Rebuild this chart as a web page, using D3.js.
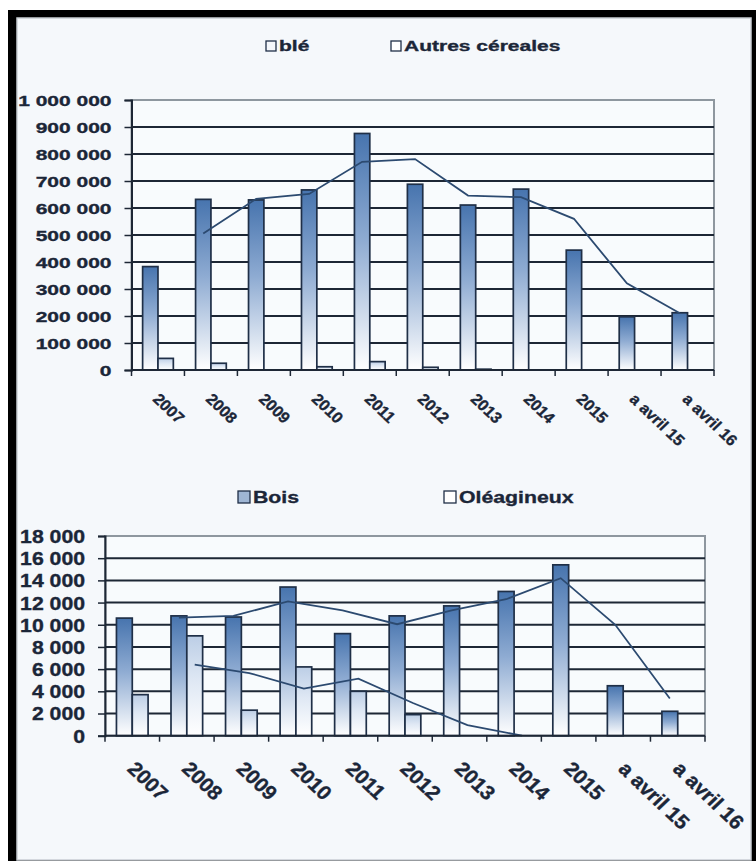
<!DOCTYPE html>
<html>
<head>
<meta charset="utf-8">
<script src="https://cdn.jsdelivr.net/npm/d3@7"></script>
<style>
  html, body { margin: 0; padding: 0; background: #ffffff; }
  svg { display: block; }
  text { font-family: "Liberation Sans", Arial, sans-serif; font-weight: bold; fill: #1b2638; stroke: #1b2638; stroke-width: 0.35px; }
</style>
</head>
<body>
<svg id="chart" width="756" height="861"></svg>
<script>
// Categories shared by both charts
const categories = ["2007", "2008", "2009", "2010", "2011", "2012", "2013", "2014", "2015", "a avril 15", "a avril 16"];

// Upper chart: cereals (tonnes)
const bleValues    = [383000, 632000, 630000, 667000, 876000, 688000, 611000, 670000, 444000, 197000, 212000];
const autresValues = [43000, 25000, 0, 12000, 31000, 10000, 3000, 0, 0, 0, 0];
const bleTrend     = [null, 506000, 634000, 652000, 771000, 781000, 646000, 640000, 560000, 321000, 210000];
const upperTicks   = [0, 100000, 200000, 300000, 400000, 500000, 600000, 700000, 800000, 900000, 1000000];

// Lower chart: wood and oilseeds
const boisValues    = [10600, 10800, 10700, 13400, 9200, 10800, 11700, 13000, 15400, 4500, 2200];
const oleagValues   = [3700, 9000, 2300, 6200, 4000, 1900, 0, 0, null, null, null];
const boisTrend     = [null, 10650, 10800, 12100, 11300, 10050, 11300, 12300, 14200, 10000, 3350];
const oleagTrend    = [null, 6400, 5650, 4250, 5150, 2950, 950, 0, null, null, null];
const lowerTicks    = [0, 2000, 4000, 6000, 8000, 10000, 12000, 14000, 16000, 18000];

const svg = d3.select("#chart");
const fmt = d3.formatLocale({ decimal: ",", thousands: " ", grouping: [3], currency: ["", " €"] }).format(",");

// Frame: dark band on top/left, light panel
svg.append("rect").attr("x", 8).attr("y", 10).attr("width", 748).attr("height", 851).attr("fill", "#000");
svg.append("rect").attr("x", 17).attr("y", 18).attr("width", 734).attr("height", 842)
  .attr("fill", "#f5f8fb").attr("stroke", "#c9ced4").attr("stroke-width", 1.5);

// Gradients for the bars
const defs = svg.append("defs");
function grad(id, top, mid, bottom) {
  const g = defs.append("linearGradient").attr("id", id).attr("x1", 0).attr("y1", 0).attr("x2", 0).attr("y2", 1);
  g.append("stop").attr("offset", "0%").attr("stop-color", top);
  g.append("stop").attr("offset", "45%").attr("stop-color", mid);
  g.append("stop").attr("offset", "100%").attr("stop-color", bottom);
}
grad("gDark", "#4774ae", "#8eabd2", "#ffffff");
grad("gLight", "#bccee6", "#dfe8f4", "#ffffff");

function drawChart(cfg) {
  const { left, right, top, bottom } = cfg;
  const g = svg.append("g");

  const x = d3.scaleBand().domain(categories).range([left, right]).paddingInner(0.42).paddingOuter(0.21);
  const xs = d3.scaleBand().domain([0, 1]).range([0, x.bandwidth()]);
  const y = d3.scaleLinear().domain([0, cfg.max]).range([bottom, top]);

  // Plot area
  g.append("rect").attr("x", left).attr("y", top).attr("width", right - left).attr("height", bottom - top)
    .attr("fill", "#f8fbfd").attr("stroke", "#8e979f").attr("stroke-width", 2);

  // Horizontal gridlines
  g.append("g").selectAll("line").data(cfg.ticks.filter(t => t > 0 && t < cfg.max)).join("line")
    .attr("x1", left).attr("x2", right).attr("y1", d => y(d)).attr("y2", d => y(d))
    .attr("stroke", "#1d2735").attr("stroke-width", 2);

  // Bars
  cfg.series.forEach((s, i) => {
    g.append("g").selectAll("rect").data(s.values.map((v, k) => ({ c: categories[k], v })).filter(d => d.v != null && d.v > 0))
      .join("rect")
      .attr("x", d => x(d.c) + xs(i)).attr("width", xs.bandwidth())
      .attr("y", d => y(d.v)).attr("height", d => y(0) - y(d.v))
      .attr("fill", `url(#${s.fill})`).attr("stroke", "#1f2f47").attr("stroke-width", 1.7);
  });

  // Trend lines
  cfg.lines.forEach(l => {
    const pts = l.values.map((v, k) => ({ c: categories[k], v })).filter(d => d.v != null);
    g.append("path").datum(pts)
      .attr("fill", "none").attr("stroke", "#2c4a70").attr("stroke-width", 1.8)
      .attr("d", d3.line().x(d => x(d.c) + xs(l.series) + xs.bandwidth() / 2).y(d => y(d.v)));
  });

  // Y axis
  const ya = g.append("g").attr("transform", `translate(${left},0)`)
    .call(d3.axisLeft(y).tickValues(cfg.ticks).tickSize(7).tickFormat(fmt));
  ya.select(".domain").attr("stroke", "#1d2735").attr("stroke-width", 2);
  ya.selectAll(".tick line").attr("stroke", "#1d2735").attr("stroke-width", 1.5);
  ya.selectAll(".tick text")
    .attr("x", -cfg.yLabelGap / cfg.ySx).attr("dy", "0.36em")
    .attr("transform", `scale(${cfg.ySx},1)`)
    .style("font-size", cfg.yFont + "px").style("font-family", null).attr("fill", "#1b2638");

  // X axis with boundary ticks
  const xa = g.append("g");
  xa.append("line").attr("x1", left).attr("x2", right).attr("y1", bottom).attr("y2", bottom)
    .attr("stroke", "#1d2735").attr("stroke-width", 2);
  const bounds = categories.map(c => x(c) - x.step() * 0.21).concat([right]);
  xa.selectAll("line.b").data(bounds).join("line").attr("class", "b")
    .attr("x1", d => d).attr("x2", d => d).attr("y1", bottom).attr("y2", bottom + 6)
    .attr("stroke", "#1d2735").attr("stroke-width", 1.5);
  xa.selectAll("text").data(categories).join("text")
    .attr("transform", d => `translate(${x(d) + x.bandwidth() / 2 + cfg.xLabelDx},${cfg.xLabelY}) scale(${cfg.xSx},1) rotate(45)`)
    .style("font-size", cfg.xFont + "px")
    .text(d => d);

  // Legend
  cfg.legend.forEach(it => {
    const lg = g.append("g").attr("transform", `translate(${it.x},${it.y})`);
    lg.append("rect").attr("x", 0).attr("y", -it.box).attr("width", it.box).attr("height", it.box)
      .attr("fill", it.fill).attr("stroke", "#1f2f47").attr("stroke-width", 1.3);
    lg.append("text").attr("transform", `translate(${it.box + 3},0) scale(${it.sx},1)`)
      .style("font-size", it.font + "px").text(it.label);
  });
}

drawChart({
  left: 131.5, right: 714, top: 100, bottom: 370, max: 1000000,
  ticks: upperTicks,
  series: [{ values: bleValues, fill: "gDark" }, { values: autresValues, fill: "gLight" }],
  lines: [{ values: bleTrend, series: 0 }],
  yFont: 15, ySx: 1.4, yLabelGap: 20,
  xFont: 15.5, xSx: 1.05, xLabelDx: -6, xLabelY: 400,
  legend: [
    { x: 266, y: 51, box: 10, fill: "#f4f7fb", label: "blé", font: 15, sx: 1.4 },
    { x: 391, y: 51, box: 10, fill: "#ffffff", label: "Autres céreales", font: 15, sx: 1.4 }
  ]
});

drawChart({
  left: 105, right: 705, top: 536, bottom: 735.7, max: 18000,
  ticks: lowerTicks,
  series: [{ values: boisValues, fill: "gDark" }, { values: oleagValues, fill: "gLight" }],
  lines: [{ values: boisTrend, series: 0 }, { values: oleagTrend, series: 1 }],
  yFont: 18, ySx: 1.18, yLabelGap: 20,
  xFont: 20, xSx: 1.05, xLabelDx: -6, xLabelY: 770,
  legend: [
    { x: 238, y: 503, box: 12, fill: "#9fb6d4", label: "Bois", font: 17, sx: 1.25 },
    { x: 444, y: 503, box: 12, fill: "#ffffff", label: "Oléagineux", font: 17, sx: 1.25 }
  ]
});
</script>
</body>
</html>
